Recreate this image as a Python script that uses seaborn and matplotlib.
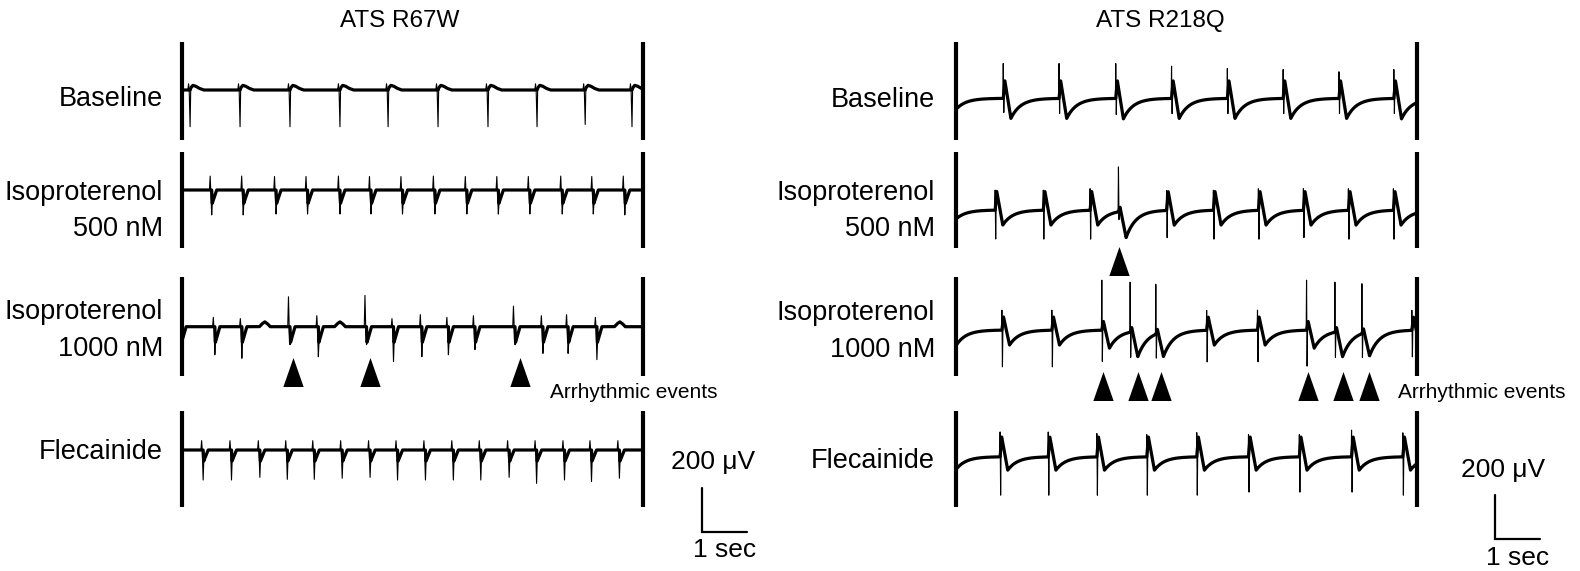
import numpy as np
import matplotlib
matplotlib.use("Agg")
import matplotlib.pyplot as plt
import seaborn as sns

# ---------------- data ----------------
PANELS = ["ATS R67W", "ATS R218Q"]
ROW_LABELS = [["Baseline"], ["Isoproterenol", "500 nM"], ["Isoproterenol", "1000 nM"], ["Flecainide"]]
EVENT_LABEL = "Arrhythmic events"
SCALE_UV = 200      # µV
SCALE_SEC = 1       # s
TRACE_SEC = 10.24   # length of each trace (s)

# ATS R67W  (beat times in s, spike amplitudes in µV)
L1_T = [0.18, 1.29, 2.40, 3.51, 4.58, 5.69, 6.80, 7.89, 8.96, 10.00]
L1_UP = [30, 30, 30, 30, 30, 30, 30, 30, 30, 30]
L1_DOWN = [165, 165, 165, 165, 165, 165, 165, 165, 155, 165]
L1_HUMP = 22

L2_T = [0.66, 1.36, 2.09, 2.79, 3.51, 4.20, 4.90, 5.62, 6.33, 7.03, 7.73, 8.45, 9.14, 9.84]
L2_UP = [67, 67, 65, 65, 67, 65, 65, 67, 65, 65, 65, 67, 65, 67]
L2_DOWN = [112, 112, 108, 108, 108, 108, 108, 108, 108, 108, 108, 108, 108, 112]
L2_DIP = 60

L3_T = [-0.02, 0.73, 1.33, 2.40, 3.03, 4.10, 4.70, 5.33, 5.92, 6.51, 7.40, 8.02, 8.58, 9.22]
L3_UP = [0, 45, 39, 144, 53, 151, 39, 58, 45, 53, 99, 53, 58, 45]
L3_DOWN = [0, 126, 142, 81, 135, 81, 157, 135, 126, 103, 81, 120, 120, 148]
L3_DIP = 70
L3_BUMPS = [1.84, 3.51, 9.73]
L3_BUMP_UV = 22
L3_EVENTS = [2.47, 4.18, 7.51]

L4_T = [0.47, 1.10, 1.73, 2.34, 2.94, 3.56, 4.18, 4.79, 5.41, 6.03, 6.64, 7.27, 7.88, 8.50, 9.10, 9.72]
L4_UP = [45, 45, 45, 45, 45, 45, 45, 45, 45, 45, 45, 45, 45, 45, 45, 45]
L4_DOWN = [135, 135, 123, 132, 132, 127, 123, 135, 135, 135, 135, 123, 150, 135, 142, 127]
L4_DIP = 50

# ATS R218Q  (beat times, thin spike up/down, broad peak, broad trough; µV)
R1_T = [-0.30, 1.05, 2.29, 3.55, 4.79, 6.03, 7.27, 8.51, 9.73]
R1_UP = [157, 157, 157, 157, 145, 135, 130, 120, 130]
R1_DOWN = [75, 75, 80, 85, 80, 80, 80, 80, 80]
R1_PEAK = [80, 80, 80, 80, 80, 80, 80, 80, 80]
R1_TROUGH = [90, 90, 90, 92, 90, 90, 90, 90, 92]

R2_T = [-0.28, 0.87, 1.94, 2.98, 3.61, 4.68, 5.72, 6.72, 7.72, 8.72, 9.72]
R2_UP = [90, 90, 90, 97, 202, 90, 90, 97, 97, 97, 97]
R2_DOWN = [148, 148, 148, 148, 40, 140, 148, 148, 140, 148, 148]
R2_PEAK = [85, 85, 85, 85, 20, 85, 85, 85, 85, 85, 85]
R2_TROUGH = [67, 67, 67, 67, 120, 67, 67, 67, 67, 67, 67]
R2_EVENTS = [3.62]

R3_T = [-0.16, 1.02, 2.13, 3.24, 3.87, 4.44, 5.57, 6.70, 7.79, 8.42, 9.02, 10.13]
R3_UP = [90, 90, 90, 225, 225, 225, 90, 90, 225, 225, 225, 90]
R3_DOWN = [180, 185, 185, 157, 126, 120, 160, 160, 180, 126, 120, 135]
R3_PEAK = [60, 60, 60, 40, 20, 20, 60, 60, 40, 20, 20, 60]
R3_TROUGH = [67, 67, 67, 81, 115, 110, 67, 67, 81, 115, 108, 67]
R3_EVENTS = [3.27, 4.04, 4.56, 7.82, 8.59, 9.18]

R4_T = [-0.18, 0.98, 2.05, 3.13, 4.24, 5.35, 6.50, 7.63, 8.79, 9.93]
R4_UP = [112, 112, 112, 105, 100, 109, 100, 100, 120, 108]
R4_DOWN = [195, 195, 195, 195, 195, 195, 180, 180, 180, 195]
R4_PEAK = [90, 90, 90, 90, 90, 90, 90, 90, 90, 90]
R4_TROUGH = [60, 60, 60, 60, 60, 60, 60, 60, 60, 60]

# ---------------- layout ----------------
W, H = 1580, 571
PX_PER_SEC = 45.0
UV_PER_PX = 200 / 44.5
X0 = [182, 956]                      # trace start (px)
BASE_PX = [[90, 190, 326.7, 450], [98.3, 210, 330, 456.7]]
BAR_PX = [(41.7, 139.5), (152, 248), (277, 376), (411, 507)]

sns.set_theme(style="white")
plt.rcParams["font.family"] = ["Liberation Sans", "DejaVu Sans"]
plt.rcParams["text.color"] = "black"

fig = plt.figure(figsize=(15.8, 5.71), dpi=100)


def yv(py):
    return -py * UV_PER_PX


def make_ax(x0):
    ax = fig.add_axes([0, 0, 1, 1])
    ax.set_xlim(-x0 / PX_PER_SEC, (W - x0) / PX_PER_SEC)
    ax.set_ylim(-H * UV_PER_PX, 0)
    ax.axis("off")
    ax.patch.set_alpha(0)
    return ax


t = np.arange(0, TRACE_SEC + 1e-9, 0.002)


def r67w(times, ups, downs, kind, amp, bumps=(), bump_amp=0):
    slow = np.zeros_like(t)
    fast = np.zeros_like(t)
    for tb, u, d in zip(times, ups, downs):
        tau = t - tb
        fast += np.interp(tau, [-0.05, -0.035, -0.02, 0.0, 0.012], [0, u, 0, -d, 0], left=0, right=0)
        if kind == "dip":
            slow += np.interp(tau, [0, 0.012, 0.11], [0, -amp, 0], left=0, right=0)
        else:
            slow += np.interp(tau, [0, 0.02, 0.06, 0.12, 0.2, 0.3],
                              [0, 0.5 * amp, 0.95 * amp, 0.8 * amp, 0.35 * amp, 0], left=0, right=0)
    for tb in bumps:
        tau = t - tb
        slow += np.interp(tau, [-0.12, -0.06, 0, 0.06, 0.12],
                          [0, 0.6 * bump_amp, bump_amp, 0.6 * bump_amp, 0], left=0, right=0)
    return slow, slow + fast


def r218q(times, ups, downs, peaks, troughs):
    slow = np.zeros_like(t)
    fast = np.zeros_like(t)
    for tb, u, d, p, tr in zip(times, ups, downs, peaks, troughs):
        tau = t - tb
        b = np.interp(tau, [0, 0.035, 0.17], [0, p, -tr], left=0, right=0)
        b = np.where(tau > 0.17, -tr * np.exp(-(tau - 0.17) / 0.22), b)
        slow += b
        fast += np.interp(tau, [-0.008, 0.0, 0.011, 0.022],
                          [0, u, -d - p * 0.011 / 0.035, 0], left=0, right=0)
    return slow, slow + fast


left_rows = [
    r67w(L1_T, L1_UP, L1_DOWN, "hump", L1_HUMP),
    r67w(L2_T, L2_UP, L2_DOWN, "dip", L2_DIP),
    r67w(L3_T, L3_UP, L3_DOWN, "dip", L3_DIP, L3_BUMPS, L3_BUMP_UV),
    r67w(L4_T, L4_UP, L4_DOWN, "dip", L4_DIP),
]
right_rows = [
    r218q(R1_T, R1_UP, R1_DOWN, R1_PEAK, R1_TROUGH),
    r218q(R2_T, R2_UP, R2_DOWN, R2_PEAK, R2_TROUGH),
    r218q(R3_T, R3_UP, R3_DOWN, R3_PEAK, R3_TROUGH),
    r218q(R4_T, R4_UP, R4_DOWN, R4_PEAK, R4_TROUGH),
]

tri = [(-0.35, -0.5), (0.35, -0.5), (0.0, 0.5), (-0.35, -0.5)]

for p, rows in enumerate([left_rows, right_rows]):
    ax = make_ax(X0[p])
    for r, (slow, full) in enumerate(rows):
        off = yv(BASE_PX[p][r])
        sns.lineplot(x=t, y=slow + off, ax=ax, color="black", linewidth=2.3,
                     estimator=None, sort=False, legend=False)
        sns.lineplot(x=t, y=full + off, ax=ax, color="black", linewidth=0.8,
                     estimator=None, sort=False, legend=False)
        b0, b1 = BAR_PX[r]
        ax.vlines([0, TRACE_SEC], yv(b1), yv(b0), color="black", linewidth=3.0)
    # arrowheads
    if p == 0:
        ev = [(L3_EVENTS, 372)]
    else:
        ev = [(R2_EVENTS, 260.5), (R3_EVENTS, 386)]
    for times, ypos in ev:
        ax.scatter(times, [yv(ypos)] * len(times), marker=tri, s=436, color="black", linewidths=0)
    # scale bar
    sx = [(701.5 - X0[0]) / PX_PER_SEC, (1495 - X0[1]) / PX_PER_SEC][p]
    sy = yv([532, 539][p])
    ax.plot([sx, sx, sx + SCALE_SEC], [sy + SCALE_UV, sy, sy], color="black", linewidth=1.6,
            solid_joinstyle="miter")


def ftext(px, py, s, **kw):
    fig.text(px / W, 1 - py / H, s, color="black", **kw)


# titles
ftext(400, 21, PANELS[0], ha="center", va="center", fontsize=17.5)
ftext(1160, 21, PANELS[1], ha="center", va="center", fontsize=17.5)

# row labels
label_y = [[[99], [193, 229], [312, 349], [452]], [[100], [193, 229], [313, 350], [461]]]
label_x = [163, 935]
for p in range(2):
    for r, lines in enumerate(ROW_LABELS):
        for line, ly in zip(lines, label_y[p][r]):
            ftext(label_x[p], ly, line, ha="right", va="center", fontsize=19.5)

# event labels
ftext(550, 392, EVENT_LABEL, ha="left", va="center", fontsize=15)
ftext(1398, 392, EVENT_LABEL, ha="left", va="center", fontsize=15)

# scale-bar labels
ftext(713, 462, f"{SCALE_UV} \u03bcV", ha="center", va="center", fontsize=19)
ftext(725, 550, f"{SCALE_SEC} sec", ha="center", va="center", fontsize=19)
ftext(1503, 470, f"{SCALE_UV} \u03bcV", ha="center", va="center", fontsize=19)
ftext(1518, 558, f"{SCALE_SEC} sec", ha="center", va="center", fontsize=19)

fig.savefig("out.png", dpi=100, facecolor="white")
